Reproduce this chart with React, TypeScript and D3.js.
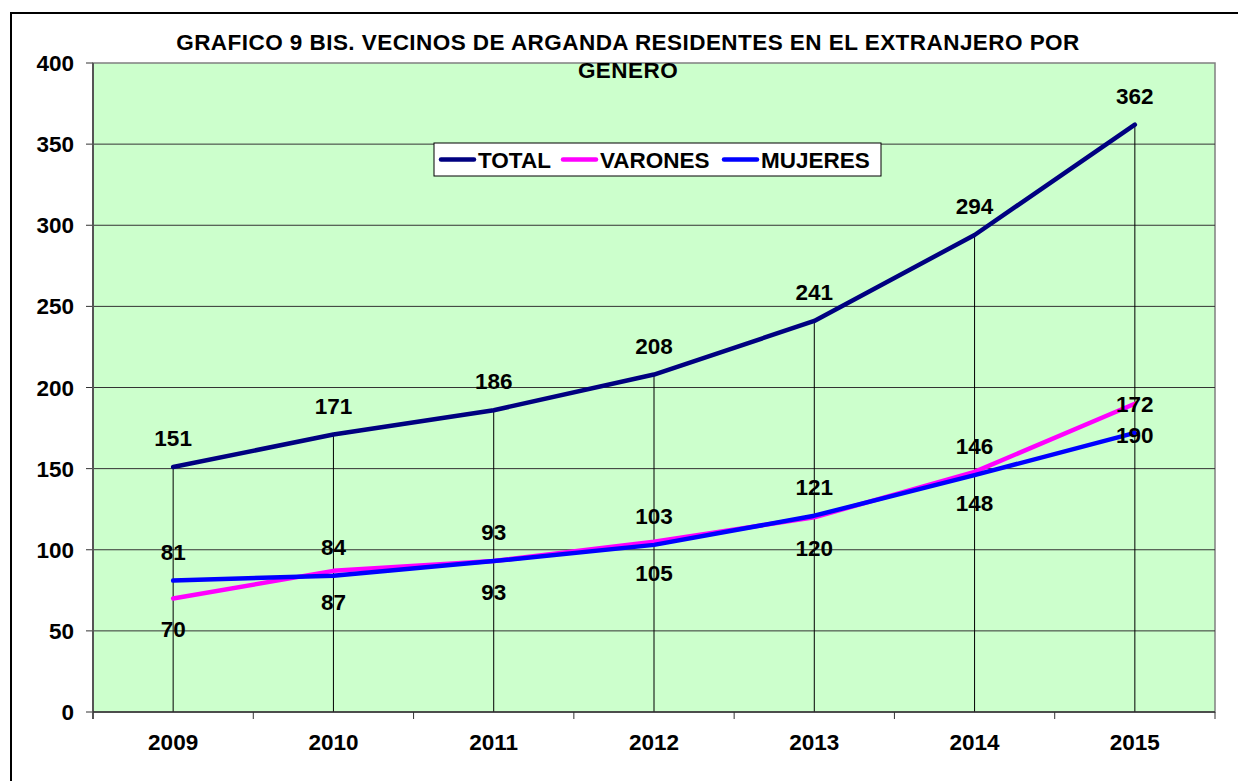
import React from "react";
import * as d3 from "d3";

const years = ["2009", "2010", "2011", "2012", "2013", "2014", "2015"];
const total = [151, 171, 186, 208, 241, 294, 362];
const varones = [70, 87, 93, 105, 120, 148, 190];
const mujeres = [81, 84, 93, 103, 121, 146, 172];
const yTicks = [0, 50, 100, 150, 200, 250, 300, 350, 400];
const titleLines = [
  "GRAFICO 9 BIS. VECINOS DE ARGANDA RESIDENTES EN EL EXTRANJERO POR",
  "GENERO",
];

const series = [
  { label: "TOTAL", values: total, color: "#000080", labelDy: -21 },
  { label: "VARONES", values: varones, color: "#FF00FF", labelDy: 39 },
  { label: "MUJERES", values: mujeres, color: "#0000FF", labelDy: -21 },
];

const App = () => {
  const width = 1238;
  const height = 781;
  const margins = { top: 63, right: 23, bottom: 69, left: 93 };
  const font = "'Liberation Sans', Arial, sans-serif";
  const txt = { fontFamily: font, fontWeight: "bold", fontSize: 22.5 };

  const xScale = d3
    .scaleBand()
    .domain(years)
    .range([margins.left, width - margins.right]);
  const yScale = d3
    .scaleLinear()
    .domain([0, 400])
    .range([height - margins.bottom, margins.top]);

  const cx = (y) => xScale(y) + xScale.bandwidth() / 2;
  const valueLine = d3
    .line()
    .x((d, i) => cx(years[i]))
    .y((d) => yScale(d))
    .curve(d3.curveLinear);

  const plotBottom = yScale(0);
  const plotTop = yScale(400);

  return (
    <div style={{ position: "absolute", left: 0, top: 0 }}>
      <svg width={width} height={height} style={{ display: "block" }}>
        <rect width={width} height={height} fill="#fff" />
        {/* outer frame */}
        <rect
          x={11}
          y={13}
          width={width + 20}
          height={height + 20}
          fill="none"
          stroke="#000"
          strokeWidth={2}
        />
        <rect
          x={margins.left}
          y={plotTop}
          width={width - margins.right - margins.left}
          height={plotBottom - plotTop}
          fill="#CCFFCC"
          stroke="#808080"
          strokeWidth={1.5}
        />
        {yTicks.map((t) => (
          <g key={t}>
            {t > 0 && t < 400 && (
              <line
                x1={margins.left}
                x2={width - margins.right}
                y1={yScale(t)}
                y2={yScale(t)}
                stroke="#333"
                strokeWidth={1}
              />
            )}
            <line
              x1={margins.left - 7}
              x2={margins.left}
              y1={yScale(t)}
              y2={yScale(t)}
              stroke="#333"
            />
            <text
              x={margins.left - 19}
              y={yScale(t)}
              dy="0.36em"
              textAnchor="end"
              {...txt}
            >
              {t}
            </text>
          </g>
        ))}
        {/* drop lines */}
        {years.map((y, i) => (
          <line
            key={y}
            x1={cx(y)}
            x2={cx(y)}
            y1={yScale(total[i])}
            y2={plotBottom}
            stroke="#000"
            strokeWidth={1}
          />
        ))}
        {/* axes */}
        <line
          x1={margins.left}
          x2={margins.left}
          y1={plotTop}
          y2={plotBottom + 7}
          stroke="#555"
          strokeWidth={2}
        />
        <line
          x1={margins.left}
          x2={width - margins.right}
          y1={plotBottom}
          y2={plotBottom}
          stroke="#333"
          strokeWidth={1.5}
        />
        {years.map((y) => (
          <line
            key={y}
            x1={xScale(y) + xScale.bandwidth()}
            x2={xScale(y) + xScale.bandwidth()}
            y1={plotBottom}
            y2={plotBottom + 7}
            stroke="#333"
          />
        ))}
        {years.map((y) => (
          <text
            key={y}
            x={cx(y)}
            y={plotBottom + 38}
            textAnchor="middle"
            {...txt}
          >
            {y}
          </text>
        ))}
        {series.map((s) => (
          <path
            key={s.label}
            d={valueLine(s.values)}
            fill="none"
            stroke={s.color}
            strokeWidth={4.5}
            strokeLinecap="round"
            strokeLinejoin="round"
          />
        ))}
        {series.map((s) =>
          s.values.map((v, i) => (
            <text
              key={s.label + i}
              x={cx(years[i])}
              y={yScale(v) + s.labelDy}
              textAnchor="middle"
              {...txt}
            >
              {v}
            </text>
          ))
        )}
        {titleLines.map((t, i) => (
          <text
            key={i}
            x={628}
            y={50 + i * 28}
            textAnchor="middle"
            fontFamily={font}
            fontWeight="bold"
            fontSize={22.5}
            letterSpacing={0.45}
          >
            {t}
          </text>
        ))}
        {/* legend */}
        <g transform="translate(434,143)">
          <rect
            width={447}
            height={33}
            fill="#fff"
            stroke="#000"
            strokeWidth={1}
          />
          {series.map((s, i) => {
            const offs = [7, 129, 290];
            return (
              <g key={s.label} transform={`translate(${offs[i]},16.5)`}>
                <line
                  x1={0}
                  x2={33}
                  y1={0}
                  y2={0}
                  stroke={s.color}
                  strokeWidth={4.5}
                  strokeLinecap="round"
                />
                <text x={37} dy="0.36em" {...txt}>
                  {s.label}
                </text>
              </g>
            );
          })}
        </g>
      </svg>
    </div>
  );
};

export default App;
